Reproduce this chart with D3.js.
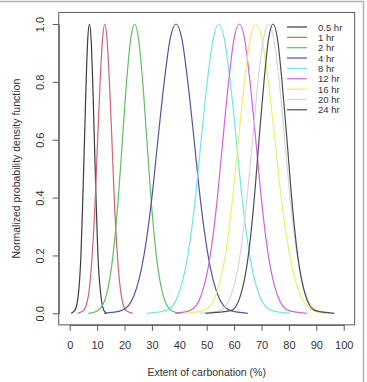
<!DOCTYPE html>
<html>
<head>
<meta charset="utf-8">
<script src="https://cdn.jsdelivr.net/npm/d3@7"></script>
<style>
  body { margin: 0; background: #fff; }
  svg { display: block; font-family: "Liberation Sans", Arial, sans-serif; }
</style>
</head>
<body>
<div id="chart"></div>
<script>
// series labels and colours (legend order)
const labels = ["0.5 hr", "1 hr", "2 hr", "4 hr", "8 hr", "12 hr", "16 hr", "20 hr", "24 hr"];
const colors = ["#3c3c3c", "#cf6470", "#62be62", "#55559e", "#72e6e6", "#d564d5", "#eeee6e", "#d6d6d6", "#4e4e4e"];

// points: [extent %, normalized density]
const hr05 = [[0.5,0],[1.9,.01],[3.1,.06],[4.1,.2],[4.8,.4],[5.4,.6],[6.0,.8],[6.6,.95],[7.2,1],[7.8,.95],[8.4,.8],[9.0,.6],[9.6,.4],[10.3,.2],[11.4,.06],[12.5,.01],[13.6,0]];
const hr1 = [[2.9,0],[5.1,.01],[6.8,.06],[8.2,.2],[9.35,.4],[10.2,.6],[11.1,.8],[12.0,.95],[12.8,1],[13.6,.95],[14.5,.8],[15.4,.6],[16.25,.4],[17.4,.2],[18.85,.06],[20.5,.01],[23,0]];
const hr2 = [[6.8,0],[10.35,.01],[13.3,.06],[15.8,.2],[17.75,.4],[19.25,.6],[20.75,.8],[22.3,.95],[23.7,1],[25.1,.95],[26.65,.8],[28.15,.6],[29.65,.4],[31.6,.2],[34.15,.06],[37.05,.01],[40.5,0]];
const hr4 = [[12.5,0],[19.1,.01],[23.4,.06],[27.1,.2],[30.0,.4],[32.2,.6],[34.5,.8],[36.7,.95],[38.8,1],[40.9,.95],[43.1,.8],[45.4,.6],[47.6,.4],[50.5,.2],[54.2,.06],[58.5,.01],[65,0]];
const hr8 = [[28.3,0],[35.3,.01],[39.5,.06],[43.1,.2],[45.9,.4],[48.0,.6],[50.2,.8],[52.4,.95],[54.4,1],[56.4,.95],[58.6,.8],[60.8,.6],[62.9,.4],[65.7,.2],[69.3,.06],[73.5,.01],[80.4,0]];
const hr12 = [[38.5,0],[44.0,.01],[47.9,.06],[51.3,.2],[53.9,.4],[55.9,.6],[58.0,.8],[60.0,.95],[61.9,1],[63.8,.95],[65.8,.8],[67.9,.6],[69.9,.4],[72.5,.2],[75.9,.06],[79.8,.01],[86.5,0]];
const hr16 = [[42.5,0],[49.1,.01],[53.2,.06],[56.8,.2],[59.5,.4],[61.6,.6],[63.8,.8],[65.9,.95],[67.9,1],[70.1,.95],[72.5,.8],[74.9,.6],[77.2,.4],[80.3,.2],[84.3,.06],[88.8,.01],[93.5,0]];
const hr20 = [[47.5,0],[55.0,.01],[58.8,.06],[62.2,.2],[64.75,.4],[66.75,.6],[68.7,.8],[70.75,.95],[72.6,1],[74.45,.95],[76.5,.8],[78.45,.6],[80.45,.4],[83.0,.2],[86.4,.06],[90.2,.01],[95,0]];
const hr24 = [[49.6,0],[59.0,.01],[62.3,.06],[65.2,.2],[67.4,.4],[69.1,.6],[70.9,.8],[72.6,.95],[74.2,1],[75.8,.95],[77.5,.8],[79.3,.6],[81.0,.4],[83.2,.2],[86.1,.06],[89.4,.01],[96.6,0]];
const series = [hr05, hr1, hr2, hr4, hr8, hr12, hr16, hr20, hr24];

// tick labels
const xTicks = [0, 10, 20, 30, 40, 50, 60, 70, 80, 90, 100];
const yTicks = [0, 0.2, 0.4, 0.6, 0.8, 1.0];

const W = 367, H = 382;

const svg = d3.select("#chart").append("svg")
  .attr("width", W)
  .attr("height", H);

// outer frame of the figure
svg.append("rect")
  .attr("x", -2).attr("y", 1.5)
  .attr("width", 365.5).attr("height", 400)
  .attr("fill", "none")
  .attr("stroke", "#b4b4b4")
  .attr("stroke-width", 1.5);

// scales (R style: domain padded by 4% at both ends)
const x = d3.scaleLinear().domain([0, 100]).range([69.7, 343.7]);
const y = d3.scaleLinear().domain([0, 1]).range([313.3, 24]);

const x0 = x(-4), x1 = x(104), y0 = y(-0.04), y1 = y(1.04);

// curves
const line = d3.line()
  .x(d => x(d[0]))
  .y(d => y(d[1]))
  .curve(d3.curveMonotoneX);

svg.append("g")
  .selectAll("path")
  .data(series)
  .join("path")
  .attr("fill", "none")
  .attr("stroke", (d, i) => colors[i])
  .attr("stroke-width", 1.2)
  .attr("d", line);

// plot box
svg.append("rect")
  .attr("x", x0).attr("y", y1)
  .attr("width", x1 - x0).attr("height", y0 - y1)
  .attr("fill", "none")
  .attr("stroke", "#5a5a5a")
  .attr("stroke-width", 1);

// x axis
const gx = svg.append("g")
  .attr("transform", "translate(0," + y0 + ")")
  .call(d3.axisBottom(x).tickValues(xTicks).tickSize(6).tickSizeOuter(0).tickPadding(10));
gx.select(".domain").attr("stroke", "#5a5a5a");
gx.selectAll(".tick line").attr("stroke", "#5a5a5a");
gx.selectAll("text")
  .attr("fill", "#333")
  .style("font-size", "11px")
  .style("font-family", "Liberation Sans, Arial, sans-serif");

// y axis, labels parallel to the axis
const gy = svg.append("g")
  .attr("transform", "translate(" + x0 + ",0)")
  .call(d3.axisLeft(y).tickValues(yTicks).tickSize(6).tickSizeOuter(0).tickFormat(d3.format(".1f")));
gy.select(".domain").attr("stroke", "#5a5a5a");
gy.selectAll(".tick line").attr("stroke", "#5a5a5a");
gy.selectAll("text")
  .attr("transform", "rotate(-90)")
  .attr("x", 0)
  .attr("y", -15)
  .attr("dy", 0)
  .attr("text-anchor", "middle")
  .attr("fill", "#333")
  .style("font-size", "11px")
  .style("font-family", "Liberation Sans, Arial, sans-serif");

// axis titles
svg.append("text")
  .attr("x", (x(0) + x(100)) / 2)
  .attr("y", 376)
  .attr("text-anchor", "middle")
  .attr("fill", "#333")
  .style("font-size", "10.5px")
  .text("Extent of carbonation (%)");

svg.append("text")
  .attr("transform", "translate(19.5," + y(0.5) + ") rotate(-90)")
  .attr("text-anchor", "middle")
  .attr("fill", "#333")
  .style("font-size", "10.5px")
  .text("Normalized probability density function");

// legend
const legend = svg.append("g")
  .selectAll("g")
  .data(labels)
  .join("g")
  .attr("transform", (d, i) => "translate(287," + (27 + i * 10.35) + ")");

legend.append("line")
  .attr("x1", 0).attr("x2", 20)
  .attr("stroke", (d, i) => colors[i])
  .attr("stroke-width", 1.2);

legend.append("text")
  .attr("x", 31)
  .attr("y", 3.5)
  .attr("fill", "#333")
  .style("font-size", "9.5px")
  .text(d => d);
</script>
</body>
</html>
